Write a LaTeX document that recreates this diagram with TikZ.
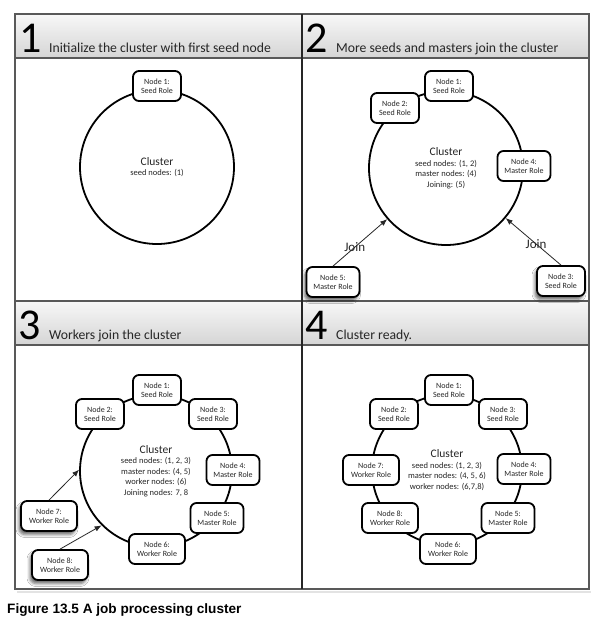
\documentclass[tikz,border=0pt]{standalone}
\usepackage{fontspec}
\setmainfont{Carlito}
\newfontfamily\capfont{Liberation Sans}
\newcommand\ctitlefont{\fontsize{11.5}{12}\selectfont}
\usetikzlibrary{arrows.meta,shadows.blur}
\tikzset{
  nd/.style={draw=black, line width=1.8pt, rounded corners=6pt, fill=white, minimum height=30pt, inner sep=1pt, align=center, font=\fontsize{8}{8.5}\selectfont, text=black!85},
  seed/.style={nd, minimum width=48pt},
  master/.style={nd, minimum width=53pt},
  worker/.style={nd, minimum width=56pt},
  joiner/.style={blur shadow={shadow xshift=-2pt, shadow yshift=-3.5pt, shadow blur radius=3pt, shadow opacity=60}},
  clus/.style={circle, draw=black, line width=1.8pt, inner sep=0pt, align=center, font=\fontsize{8.5}{10.5}\selectfont, text=black!85},
  arr/.style={-{Latex[length=7pt,width=5.5pt]}, line width=0.8pt, draw=black!85},
  joinlbl/.style={font=\fontsize{13}{13}\selectfont, text=black!85, inner sep=0pt},
  hdr/.style={top color=gray!6, bottom color=gray!33, draw=none},
  hnum/.style={anchor=base west, inner sep=0pt, font=\fontsize{44}{44}\selectfont, text=black},
  htext/.style={anchor=base west, inner sep=0pt, font=\fontsize{13.7}{14}\selectfont, text=black!85},
  frame/.style={draw=black!65, line width=1.4pt},
}
\begin{document}
\begin{tikzpicture}[x=1pt,y=-1pt]
\useasboundingbox[fill=white] (0,0) rectangle (605,625);
% headers
\fill[hdr] (15,14) rectangle (589,58);
\fill[hdr] (15,301) rectangle (589,345);
% drop shadow line
\draw[gray!22, line width=2pt] (17,592) -- (591,592);
% frame
\draw[frame] (15,14) rectangle (589,589);
\draw[frame] (15,58) -- (589,58);
\draw[frame] (15,301) -- (589,301);
\draw[frame] (15,345) -- (589,345);
\draw[draw=black!85, line width=1.4pt] (302,14) -- (302,589);
% header texts
\node[hnum] (h1n) at (19,52) {1};
\node[htext] (h1t) at (49,52) {Initialize the cluster with first seed node};
\node[hnum] (h2n) at (305,52) {2};
\node[htext] (h2t) at (336,52) {More seeds and masters join the cluster};
\node[hnum] (h3n) at (18,339) {3};
\node[htext] (h3t) at (49,339) {Workers join the cluster};
\node[hnum] (h4n) at (305,339) {4};
\node[htext] (h4t) at (336,339) {Cluster ready.};

% panel 1
\node[clus, minimum size=154pt] (c1) at (157,167) {{\ctitlefont Cluster}\\seed nodes: (1)};
\node[seed] (p1n1) at (157,86) {Node 1:\\Seed Role};

% panel 2
\node[clus, minimum size=154pt] (c2) at (446,168) {{\ctitlefont Cluster}\\seed nodes: (1, 2)\\master nodes: (4)\\Joining: (5)};
\node[seed] (p2n1) at (449,86) {Node 1:\\Seed Role};
\node[seed] (p2n2) at (395,108) {Node 2:\\Seed Role};
\node[master] (p2n4) at (524,166) {Node 4:\\Master Role};
\node[master, joiner] (p2n5) at (333,282) {Node 5:\\Master Role};
\node[seed, joiner] (p2n3) at (561,281) {Node 3:\\Seed Role};
\draw[arr] (p2n5.north) -- (c2.221) node[joinlbl, pos=0.4] {Join};
\draw[arr] (p2n3.north) -- (c2.320) node[joinlbl, pos=0.45] {Join};

% panel 3
\node[clus, minimum size=152pt] (c3) at (156,471) {{\ctitlefont Cluster}\\seed nodes: (1, 2, 3)\\master nodes: (4, 5)\\worker nodes: (6)\\Joining nodes: 7, 8};
\node[seed] (p3n1) at (157,390) {Node 1:\\Seed Role};
\node[seed] (p3n2) at (100,414) {Node 2:\\Seed Role};
\node[seed] (p3n3) at (213,414) {Node 3:\\Seed Role};
\node[master] (p3n4) at (233,470) {Node 4:\\Master Role};
\node[master] (p3n5) at (217,518) {Node 5:\\Master Role};
\node[worker] (p3n6) at (157,549) {Node 6:\\Worker Role};
\node[worker, joiner] (p3n7) at (49,516) {Node 7:\\Worker Role};
\node[worker, joiner] (p3n8) at (60,565) {Node 8:\\Worker Role};
\draw[arr] (p3n7.north) -- (c3.179);
\draw[arr] (p3n8.north) -- (c3.225);

% panel 4
\node[clus, minimum size=150pt] (c4) at (447,470) {{\ctitlefont Cluster}\\seed nodes: (1, 2, 3)\\master nodes: (4, 5, 6)\\worker nodes: (6,7,8)};
\node[seed] (p4n1) at (449,390) {Node 1:\\Seed Role};
\node[seed] (p4n2) at (394,414) {Node 2:\\Seed Role};
\node[seed] (p4n3) at (503,414) {Node 3:\\Seed Role};
\node[master] (p4n4) at (524,469) {Node 4:\\Master Role};
\node[master] (p4n5) at (508,518) {Node 5:\\Master Role};
\node[worker] (p4n6) at (448,549) {Node 6:\\Worker Role};
\node[worker] (p4n7) at (371,470) {Node 7:\\Worker Role};
\node[worker] (p4n8) at (390,518) {Node 8:\\Worker Role};

% caption
\node[anchor=base west, inner sep=0pt, font=\capfont\bfseries\fontsize{13.6}{16}\selectfont] (cap) at (7,613) {Figure 13.5 A job processing cluster};
\end{tikzpicture}
\end{document}
